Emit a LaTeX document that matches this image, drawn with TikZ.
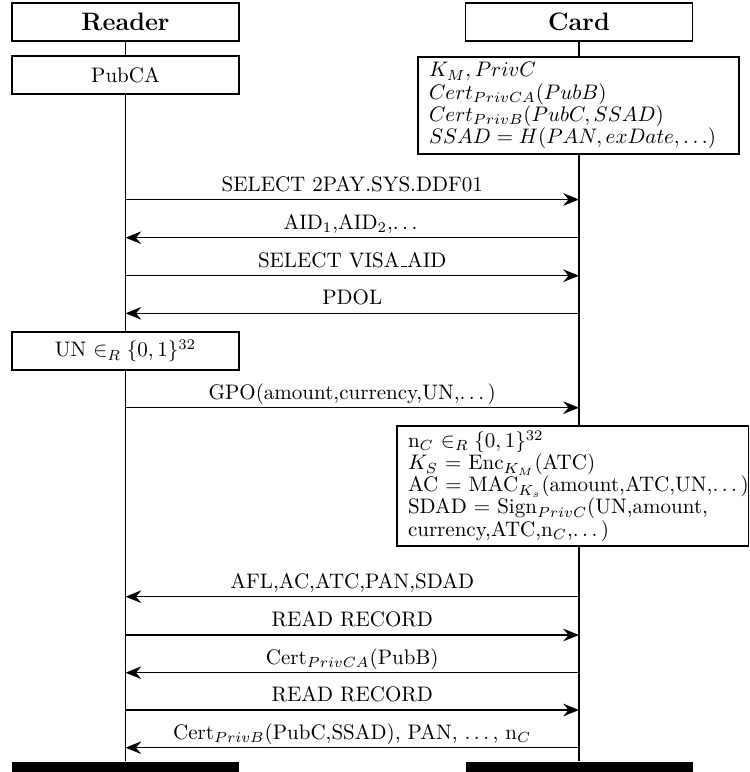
\documentclass[tikz,border=0pt]{standalone}
\usetikzlibrary{arrows.meta}
\def\pxu{0.476pt}
\newcommand\mydots{.\kern\fontdimen3\font.\kern\fontdimen3\font.\kern\fontdimen3\font}
\newcommand\myus{\leavevmode\kern.06em\vbox{\hrule width.3em}}
\begin{document}
\begin{tikzpicture}[x=\pxu,y=-\pxu, line width=0.75pt,
  inst/.style={draw, minimum width=227*\pxu, minimum height=38*\pxu, inner sep=0pt, font=\large\bfseries, fill=white},
  act/.style={draw, minimum width=227*\pxu, minimum height=38*\pxu, inner sep=0pt, fill=white},
  bigact/.style={draw, fill=white, align=left, inner xsep=11*\pxu, inner ysep=0pt, font=\fontsize{10}{10.5}\selectfont},
  msg/.style={-{Stealth[length=7.5pt,width=6pt,inset=2.5pt]}},
  lbl/.style={midway, anchor=base, yshift=4pt, inner sep=0pt},
  endbar/.style={fill=black, minimum width=227*\pxu, minimum height=10*\pxu, inner sep=0pt}
]
\useasboundingbox (0,0) rectangle (750,772);

% instance heads and ends
\node[inst] (rd) at (125.5,22) {Reader};
\node[inst] (cd) at (579,22) {Card};
\node[endbar] (rdend) at (125.5,767) {};
\node[endbar] (cdend) at (579,767) {};

% lifelines
\draw (rd.south) -- (rdend.north);
\draw (cd.south) -- (cdend.north);

% actions
\node[act] (pub) at (125.5,75) {PubCA};
\node[bigact, text width=299*\pxu, minimum height=97*\pxu] (cst) at (578.5,105.5)
  {$K_M, PrivC$\\
   $Cert_{PrivCA}(PubB)$\\
   $Cert_{PrivB}(PubC, SSAD)$\\
   $SSAD = H(PAN, exDate, \dots)$};
\node[act] (un) at (125.5,351) {UN $\in_R \{0,1\}^{32}$};
\node[bigact, text width=329.5*\pxu, minimum height=120*\pxu] (comp) at (572.75,486)
  {\mbox{n$_C$ $\in_R \{0,1\}^{32}$}\\
   \mbox{$K_S$ $=$ Enc$_{K_M}$(ATC)}\\
   \mbox{AC $=$ MAC$_{K_s}$(amount,ATC,UN,\mydots)}\\
   \mbox{SDAD $=$ Sign$_{PrivC}$(UN,amount,}\\
   \mbox{currency,ATC,n$_C$,\mydots)}};

% message end points on the lifelines
\foreach \n/\yy in {1/199.5,2/237.7,3/275.7,4/313.3,5/407.7,6/596.7,7/635,8/672.7,9/710,10/747.7}{
  \coordinate (r\n) at (125.5,\yy);
  \coordinate (c\n) at (579,\yy);
}

% messages
\draw[msg] (r1) -- node[lbl] {SELECT 2PAY.SYS.DDF01} (c1);
\draw[msg] (c2) -- node[lbl] {AID$_1$,AID$_2$,\mydots} (r2);
\draw[msg] (r3) -- node[lbl] {SELECT VISA\myus AID} (c3);
\draw[msg] (c4) -- node[lbl] {PDOL} (r4);
\draw[msg] (r5) -- node[lbl] {GPO(amount,currency,UN,\mydots)} (c5);
\draw[msg] (c6) -- node[lbl] {AFL,AC,ATC,PAN,SDAD} (r6);
\draw[msg] (r7) -- node[lbl] {READ RECORD} (c7);
\draw[msg] (c8) -- node[lbl] {Cert$_{PrivCA}$(PubB)} (r8);
\draw[msg] (r9) -- node[lbl] {READ RECORD} (c9);
\draw[msg] (c10) -- node[lbl] {Cert$_{PrivB}$(PubC,SSAD), PAN, \mydots, n$_C$} (r10);
\end{tikzpicture}
\end{document}
